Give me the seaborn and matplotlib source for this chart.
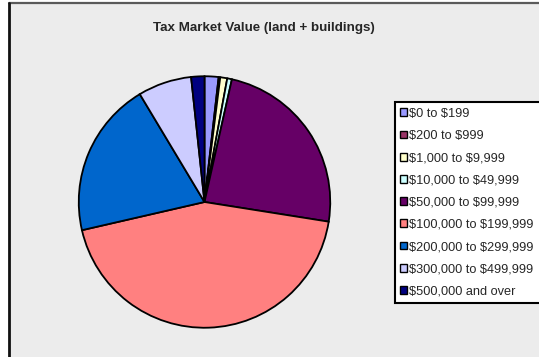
import matplotlib
matplotlib.use("Agg")
import matplotlib.pyplot as plt
from matplotlib.patches import Patch, Rectangle
from matplotlib.lines import Line2D
import seaborn as sns

# Share of parcels by tax market value band (percent)
categories = [
    "$0 to $199",
    "$200 to $999",
    "$1,000 to $9,999",
    "$10,000 to $49,999",
    "$50,000 to $99,999",
    "$100,000 to $199,999",
    "$200,000 to $299,999",
    "$300,000 to $499,999",
    "$500,000 and over",
]
shares = [1.8, 0.2, 0.9, 0.6, 24.0, 43.9, 20.0, 6.9, 1.7]
colors = ["#9999FF", "#993366", "#FFFFCC", "#CCFFFF", "#660066",
          "#FF8080", "#0066CC", "#CCCCFF", "#000080"]
title = "Tax Market Value (land + buildings)"

sns.set_theme(style="white")
plt.rcParams["font.family"] = ["Liberation Sans", "DejaVu Sans"]
plt.rcParams["text.parse_math"] = False  # dollar signs are literal

W, H = 539, 357
fig = plt.figure(figsize=(W / 100, H / 100), dpi=100, facecolor="white")

# chart area panel with its frame
bg = fig.add_axes([0, 0, 1, 1])
bg.set_xlim(0, W)
bg.set_ylim(H, 0)
bg.axis("off")
bg.add_patch(Rectangle((9, 3), W, H, facecolor="#ECECEC", edgecolor="none"))
bg.add_line(Line2D([9, W], [3, 3], color="#5a5a5a", lw=1.6))
bg.add_line(Line2D([9, 9], [3, H], color="#111111", lw=2.0))

# pie, clockwise from twelve o'clock
cx, cy, r = 204.5, 202, 127
ax = fig.add_axes([(cx - r) / W, (H - cy - r) / H, 2 * r / W, 2 * r / H])
ax.pie(shares, colors=colors, startangle=90, counterclock=False,
       wedgeprops=dict(edgecolor="black", linewidth=1.3))
ax.set_xlim(-1.01, 1.01)
ax.set_ylim(-1.01, 1.01)
ax.set_aspect("equal")
ax.axis("off")

fig.text(264 / W, 1 - 28 / H, title, ha="center", va="center",
         fontsize=9.6, fontweight="bold")

# legend box runs past the right edge of the figure
handles = [Patch(facecolor=c, edgecolor="black", linewidth=1.0) for c in colors]
leg = fig.legend(handles, categories, loc="upper left", mode="expand",
                 bbox_to_anchor=(394.5 / W, 0, 200 / W, 1 - 102 / H),
                 fontsize=9.2, frameon=True, fancybox=False,
                 handlelength=0.55, handleheight=0.55, handletextpad=0.15,
                 labelspacing=0.80, borderpad=0.45, borderaxespad=0)
frame = leg.get_frame()
frame.set_facecolor("white")
frame.set_edgecolor("black")
frame.set_linewidth(1.5)
frame.set_alpha(1)

fig.savefig("out.png", dpi=100, facecolor="white")
